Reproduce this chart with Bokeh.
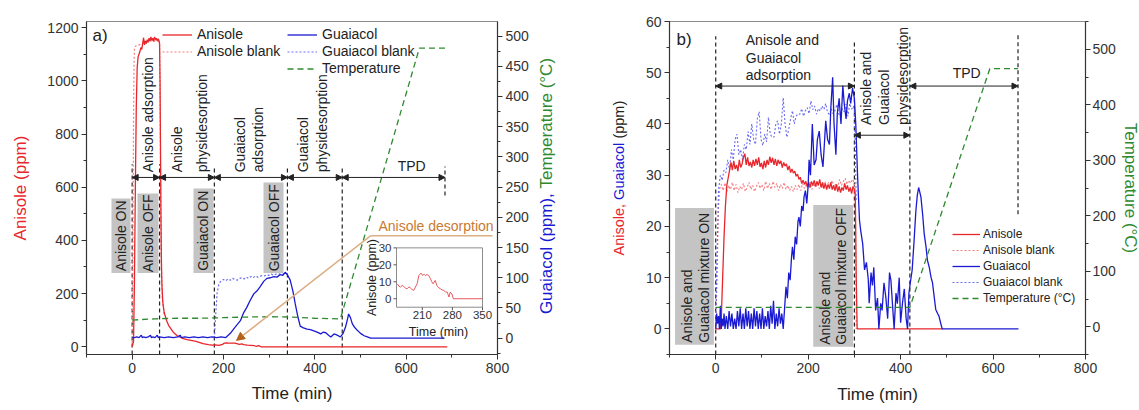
import math
from bokeh.plotting import figure
from bokeh.models import (Range1d, LinearAxis, SingleIntervalTicker, Legend, LegendItem,
                          Arrow, NormalHead)
from bokeh.layouts import row
from bokeh.embed import file_html
from bokeh.resources import INLINE
from bokeh.core.properties import value

FONT = "Liberation Sans"
RED = "#e8262b"
RED_BLANK = "#f27d80"
BLUE = "#1a1ad2"
BLUE_BLANK = "#6b6bf2"
GREEN = "#2f8a2f"
INK = "#222222"
BOX = "#c4c4c4"
BROWN_TXT = "#c97a32"
BROWN_LINE = "#dcae84"
BROWN_HEAD = "#b5621a"
ROT = math.pi / 2

# ---------------- panel a data ----------------
a_anis_t = [0, 3, 5, 7, 9, 11, 13, 15, 17, 19, 21, 23, 25, 27, 29, 31, 33, 35, 37, 39,
            41, 43, 45, 47, 49, 51, 53, 55, 57, 59, 60, 61, 62, 63, 64, 65, 67, 70, 75, 80,
            90, 100, 110, 120, 140, 155, 167, 175, 182, 190, 194, 198, 202, 207, 211, 217, 225, 229, 235, 240,
            244, 252, 260, 268, 272, 275, 279, 282, 690]
a_anis_v = [0, 20, 250, 600, 900, 1050, 1090, 1100, 1110, 1125, 1118, 1140, 1162, 1135, 1150, 1140, 1155, 1145, 1160, 1150,
            1165, 1152, 1160, 1148, 1165, 1155, 1160, 1150, 1158, 1150, 1140, 1000, 750, 500, 330, 240, 170, 130, 100, 80,
            55, 40, 32, 27, 20, 12, 8, 6, 7, 5, 7, 9, 14, 15, 14, 14, 14, 12, 9, 11,
            8, 6, 5, 4, 1, 4, 3, 0, 0]
a_anisb_t = [0, 1, 2, 3, 4, 5, 7, 10, 15, 20, 30, 40, 50, 58, 60, 61, 62, 63, 64, 66, 70]
a_anisb_v = [0, 150, 500, 850, 1050, 1120, 1130, 1132, 1135, 1140, 1145, 1150, 1150, 1148, 1140, 1000, 700, 450, 300, 180, 120]
a_guai_t = [0, 5, 10, 15, 20, 22, 25, 30, 35, 40, 42, 45, 50, 55, 57, 60, 70, 80, 90, 100,
            105, 108, 115, 125, 135, 145, 155, 165, 175, 185, 195, 205, 215, 225, 237, 244, 251, 258, 266, 273,
            280, 288, 295, 303, 310, 317, 324, 330, 335, 340, 346, 352, 357, 363, 368, 375, 383, 390, 398, 405,
            413, 418, 424, 430, 435, 442, 449, 456, 462, 467, 471, 474, 478, 482, 487, 493, 500, 508, 515, 522,
            600, 684]
a_guai_v = [1, 1, 2, 1, 5, 1, 2, 1, 2, 5, 1, 2, 1, 5, 1, 2, 1, 2, 1, 2,
            5, 1, 2, 1, 2, 1, 2, 1, 2, 1, 2, 1, 8, 18, 29, 42, 51, 62, 73, 78,
            85, 94, 99, 100, 102, 101, 105, 104, 109, 105, 96, 78, 57, 35, 20, 17, 15, 14, 12, 10,
            7, 10, 9, 5, 2, 7, 5, 2, 8, 18, 30, 40, 34, 24, 18, 13, 8, 4, 2, 0,
            0, 0]
a_guaib_t = [180, 183, 186, 190, 195, 200, 205, 210, 215, 220, 225, 230, 235, 240, 245, 250, 255, 260, 265, 270,
             275, 280, 285, 290, 295, 300, 305, 310, 315, 320, 325, 330, 335, 338]
a_guaib_v = [0, 40, 75, 90, 95, 97, 95, 98, 96, 99, 97, 96, 99, 100, 98, 101, 99, 102, 100, 103,
             101, 102, 104, 103, 105, 104, 106, 104, 106, 105, 107, 106, 108, 107]
a_temp_t = [0, 50, 100, 150, 200, 250, 300, 350, 400, 456, 629, 686]
a_temp_v = [30, 32, 33, 33, 34, 35, 35.5, 35, 33, 32, 480, 480]

# inset (anisole desorption zoom)
in_t = [152, 155, 159, 163, 167, 171, 175, 179, 182, 186, 190, 194, 198, 202, 207, 211, 214, 217, 221, 225,
        229, 232, 235, 240, 244, 248, 252, 256, 260, 264, 268, 270, 272, 275, 277, 279, 282, 286, 350]
in_v = [8.8, 7.5, 6.9, 7.8, 7.3, 6.2, 5.9, 7.0, 6.5, 5.5, 4.9, 6.9, 8.8, 13.7, 15.1, 13.7, 14.5, 13.7, 14.2, 13.7,
        11.8, 10.0, 8.8, 10.8, 7.8, 6.5, 5.9, 5.2, 4.9, 4.0, 3.9, 2.5, 1.0, 3.9, 3.2, 2.9, 0, 0, 0]
in_xticks = [210, 280, 350]
in_yticks = [0, 10, 20, 30]

# ---------------- panel b data ----------------
b_anis_t = [0, 10, 12, 15, 18, 21, 24, 27, 30, 33, 36, 39, 42, 45, 48, 51, 54, 57, 60, 63,
            66, 69, 72, 75, 78, 81, 84, 87, 90, 93, 96, 99, 102, 105, 108, 111, 114, 117, 120, 123,
            126, 129, 132, 135, 138, 141, 144, 147, 150, 153, 156, 159, 162, 165, 168, 171, 174, 177, 180, 183,
            186, 189, 192, 195, 198, 201, 204, 207, 210, 213, 216, 219, 222, 225, 228, 231, 234, 237, 240, 243,
            246, 249, 252, 255, 258, 261, 264, 267, 270, 273, 276, 279, 282, 285, 288, 291, 294, 297, 300, 302,
            304, 306, 491]
b_anis_v = [0, 0, 2, 10, 18, 24, 28, 29.5, 31, 32.5, 31, 32.8, 31.2, 32, 30.8, 33, 31.5, 32.2, 33.5, 34.2,
            32, 33.5, 31.8, 32.6, 31.5, 33, 31.8, 33.2, 32, 33.5, 31.6, 32.4, 31.2, 32.8, 31.5, 33, 32, 33.6, 32.4, 33.4,
            32, 33.2, 31.8, 33, 32.2, 32.8, 31.5, 32.5, 31.8, 32.2, 31, 31.8, 30.5, 31.2, 30.4, 30.8, 29.8, 30.2, 29.2, 29.6,
            28.4, 29, 28.2, 28.8, 27.8, 28.6, 27.6, 28.8, 28, 29, 27.8, 28.8, 28, 29.2, 27.6, 28.6, 27.4, 28.4, 27.2, 28.2,
            27.4, 28.6, 27.2, 28, 27, 28.2, 26.8, 27.8, 26.6, 27.6, 27, 28.4, 27.2, 28, 26.8, 27.6, 26.4, 27.8, 27.2, 26,
            10, 0, 0]
b_anisb_t = [0, 3, 6, 9, 12, 16, 20, 24, 28, 32, 36, 40, 44, 48, 52, 56, 60, 64, 68, 72,
             76, 80, 84, 88, 92, 96, 100, 104, 108, 112, 116, 120, 124, 128, 132, 136, 140, 144, 148, 152,
             156, 160, 164, 168, 172, 176, 180, 184, 188, 192, 196, 200, 204, 208, 212, 216, 220, 224, 228, 232,
             236, 240, 244, 248, 252, 256, 260, 264, 268, 272, 276, 280, 284, 288, 292, 296, 300, 302, 304]
b_anisb_v = [0, 10, 24, 27.5, 28.2, 27, 28.5, 26.8, 28, 27.2, 28.6, 27, 28.2, 26.6, 27.8, 27.2, 28.4, 26.8, 27.6, 28.6,
             27.2, 28, 26.8, 27.8, 28.6, 27.4, 28.2, 27, 28.8, 27.4, 28.4, 27.2, 28.8, 27.6, 28.4, 27, 28.2, 27.4, 28.6, 27.2,
             28, 27, 27.8, 26.8, 28, 27.2, 28.2, 27, 28.4, 27.4, 28.2, 27.4, 28.6, 27.2, 28.4, 27.6, 28.8, 27.4, 28.2, 27.6,
             28.8, 27.8, 28.6, 28, 29, 27.6, 28.4, 27.8, 29.2, 28, 28.8, 29.4, 28.2, 29, 28.4, 29.2, 28.5, 27, 0]
b_guai_t = [0, 2, 4, 6, 8, 10, 12, 14, 16, 18, 20, 23, 26, 29, 32, 35, 38, 41, 44, 47,
            50, 53, 56, 59, 62, 65, 68, 71, 74, 77, 80, 83, 86, 89, 92, 95, 98, 101, 104, 107,
            110, 113, 116, 119, 122, 125, 128, 131, 134, 137, 140, 143, 146, 149, 152, 155, 158, 161, 164, 166,
            169, 172, 175, 178, 180, 183, 186, 189, 191, 194, 197, 200, 202, 205, 209, 213, 217, 220, 224, 228,
            232, 235, 238, 242, 246, 249, 253, 256, 260, 263, 267, 271, 275, 278, 282, 285, 289, 292, 296, 300,
            303, 307, 311, 314, 318, 322, 326, 330, 332, 336, 339, 342, 346, 350, 353, 357, 360, 364, 368, 372,
            376, 379, 383, 386, 390, 393, 397, 400, 404, 408, 412, 415, 418, 421, 425, 429, 433, 436, 439, 442,
            444, 448, 451, 455, 458, 462, 466, 469, 473, 476, 480, 483, 487, 490, 655]
b_guai_v = [0, 3, 1, 2.5, 0, 4.5, 0, 2, 0.5, 3, 0, 2.5, 0, 3.5, 0.5, 3, 0, 2, 0, 3.5,
            0.5, 4, 0, 3, 0, 4, 0.5, 3.5, 0, 3, 0, 4, 0.5, 3.5, 0, 3, 0, 4, 0, 2.5,
            0.5, 3.5, 0, 4.5, 1, 5.5, 0, 3, 0.5, 4, 1, 3, 0, 4, 8.2, 6, 11, 9.5, 14, 16,
            13.5, 18, 16.5, 21, 21.8, 20, 24, 23, 25.7, 27, 24.5, 28, 33, 30, 40, 32, 33, 37, 38.6, 34,
            31.6, 36, 40.6, 37, 36, 43, 49.1, 40, 34, 42, 45, 40, 47.5, 44, 41, 44.5, 46, 44, 47, 45,
            40, 29.6, 21.2, 19, 16.6, 11.5, 13, 9.7, 5, 11, 8.5, 12, 3.6, 6, 0, 5, 3.6, 9, 6.2, 2,
            11, 9.5, 4, 0, 7, 4.9, 10, 1.2, 5, 7.8, 2, 0, 7, 9, 11.5, 17, 23, 26, 27.6, 26.5,
            25.7, 22, 18.6, 16, 13.4, 12, 10, 9, 6, 3.8, 3, 2.5, 1, 0, 0]
b_guaib_t = [0, 3, 6, 10, 14, 18, 22, 26, 30, 34, 38, 42, 46, 50, 54, 58, 62, 66, 70, 74,
             78, 82, 86, 90, 94, 98, 102, 106, 110, 114, 118, 122, 126, 130, 134, 138, 142, 146, 150, 154,
             158, 162, 166, 170, 174, 178, 182, 186, 190, 194, 198, 202, 206, 210, 214, 218, 222, 226, 230, 234,
             238, 242, 246, 250, 254, 258, 262, 266, 270, 274, 278, 282, 286, 290, 294, 298, 300, 302, 304]
b_guaib_v = [0, 15, 27, 30, 29, 31, 30.5, 33, 31, 35, 33, 37, 38, 34, 35, 33, 36, 35, 38.5, 36,
             40, 37, 36, 41, 42.4, 37, 35.8, 38, 36.5, 41.3, 38, 37.4, 37.4, 40, 40.6, 38, 40, 45.1, 40, 37.4,
             39, 41, 42.6, 40, 41.5, 42, 41.9, 43, 41.5, 42.6, 43.2, 42, 44.5, 42.8, 43.5, 41.9, 43, 42.5, 43.5, 42.8,
             44, 42.2, 41.9, 43, 42, 42.6, 43.8, 42, 41.3, 43, 42.4, 43.9, 41.5, 44, 42.9, 43.5, 42.6, 35, 25]
b_temp_t = [0, 100, 200, 300, 420, 593, 654]
b_temp_v = [35, 35, 35, 35, 35, 465, 465]

for a_, b_ in [(a_anis_t, a_anis_v), (a_anisb_t, a_anisb_v), (a_guai_t, a_guai_v), (a_guaib_t, a_guaib_v),
               (in_t, in_v), (b_anis_t, b_anis_v), (b_anisb_t, b_anisb_v), (b_guai_t, b_guai_v),
               (b_guaib_t, b_guaib_v)]:
    assert len(a_) == len(b_), (len(a_), len(b_))

# ---------------- ranges ----------------
A_X = (-100, 800); A_Y = (-29, 1223); A_Y2 = (-27, 524)
B_X = (-100, 800); B_Y = (-5, 60); B_Y2 = (-50, 550)

# ---------------- layout (page pixels; frames of a row share top/bottom) ----------------
TOTAL_H = 409
C_T, C_H = 21, 333
C_B = TOTAL_H - C_T - C_H
A_L, A_W, A_RB = 86, 411, 38
S_W = 95
B_LB, B_W, B_RB = 39, 416, 53
S_L = A_L + A_W + A_RB

# reference frame of panel a used to place its annotations
R_AT, R_AH = 19, 331
IN_L, IN_R, IN_TOP, IN_BOT = 396, 482, 244, 303
IN_X = (150, 350); IN_Y = (-5, 30)


def ax_px(px):
    return A_X[0] + (px - A_L) / A_W * (A_X[1] - A_X[0])


def ay_px(py):
    return A_Y[1] - (py - R_AT) / R_AH * (A_Y[1] - A_Y[0])


def style_axis(ax):
    ax.axis_line_color = "#333333"
    ax.axis_line_width = 1.2
    ax.major_tick_line_color = "#333333"
    ax.minor_tick_line_color = "#333333"
    ax.major_tick_out = 5
    ax.major_tick_in = 0
    ax.minor_tick_out = 3
    ax.minor_tick_in = 0
    ax.major_label_text_font = FONT
    ax.major_label_text_font_size = "14px"
    ax.major_label_text_color = "#333333"
    ax.axis_label_text_font = FONT
    ax.axis_label_text_font_style = "normal"
    ax.axis_label_text_font_size = "17px"
    ax.axis_label_text_color = INK
    ax.major_label_standoff = 3
    ax.axis_label_standoff = 3


def make_fig(xr, yr, fw, bl, br):
    p = figure(frame_width=fw, frame_height=C_H, x_range=Range1d(*xr), y_range=Range1d(*yr),
               min_border_left=bl, min_border_right=br, min_border_top=C_T, min_border_bottom=C_B,
               output_backend="svg", toolbar_location=None, title=None)
    p.xgrid.visible = False
    p.ygrid.visible = False
    p.outline_line_color = "#8c8c8c"
    p.background_fill_color = "white"
    p.border_fill_color = "white"
    return p


def style_legend(leg, fs, h, gw, loc):
    leg.location = loc
    leg.border_line_alpha = 0
    leg.background_fill_alpha = 0
    leg.padding = 0
    leg.margin = 0
    leg.spacing = 0
    leg.glyph_width = gw
    leg.glyph_height = h
    leg.label_height = h
    leg.label_standoff = 5
    leg.label_text_font = FONT
    leg.label_text_font_size = fs
    leg.label_text_color = INK


def txt(p, xs, ys, texts, size="14px", angle=0.0, align="left", baseline="middle", color=INK, **kw):
    p.text(x=xs, y=ys, text=texts, angle=angle, text_align=align, text_baseline=baseline,
           text_font=value(FONT), text_font_size=value(size), text_color=color, **kw)


def arrows(p, x0s, x1s, ys):
    for x0, x1, y in zip(x0s, x1s, ys):
        p.add_layout(Arrow(start=NormalHead(size=6, fill_color=INK, line_color=INK),
                           end=NormalHead(size=6, fill_color=INK, line_color=INK),
                           x_start=x0, y_start=y, x_end=x1, y_end=y, line_color=INK, line_width=1))


# ================= panel a =================
pa = make_fig(A_X, A_Y, A_W, A_L, A_RB)
pa.xaxis.ticker = SingleIntervalTicker(interval=200, num_minor_ticks=2)
pa.yaxis.ticker = SingleIntervalTicker(interval=200, num_minor_ticks=2)
style_axis(pa.xaxis[0])
style_axis(pa.yaxis[0])
pa.xaxis.axis_label = "Time (min)"
pa.xaxis.axis_label_standoff = 8
pa.yaxis.axis_label = "Anisole (ppm)"
pa.yaxis.axis_label_text_color = RED
pa.yaxis.axis_label_standoff = 14

pa.extra_y_ranges = {"right": Range1d(*A_Y2)}
sx_in = (IN_X[1] - IN_X[0]) / (IN_R - IN_L)
sy_in = (IN_Y[1] - IN_Y[0]) / (IN_BOT - IN_TOP)
pa.extra_x_ranges = {"ix": Range1d(IN_X[0] - (IN_L - A_L) * sx_in, IN_X[1] + (A_L + A_W - IN_R) * sx_in)}
pa.extra_y_ranges["iy"] = Range1d(IN_Y[0] - (R_AT + R_AH - IN_BOT) * sy_in, IN_Y[1] + (IN_TOP - R_AT) * sy_in)
ax2 = LinearAxis(y_range_name="right", ticker=SingleIntervalTicker(interval=50, num_minor_ticks=2))
style_axis(ax2)
pa.add_layout(ax2, "right")

# phase boxes (a)
a_box_l = [-45.3, 11.7, 134.3, 287.6]
a_box_r = [-3.6, 57.7, 178.1, 331.4]
a_box_b = [277.4, 277.4, 277.4, 277.4]
a_box_t = [557.3, 576.2, 595.1, 617.8]
a_box_txt = ["Anisole ON", "Anisole OFF", "Guaiacol ON", "Guaiacol OFF"]
pa.quad(left=a_box_l, right=a_box_r, bottom=a_box_b, top=a_box_t, fill_color=BOX, line_color=None)
txt(pa, [(l + r) / 2 for l, r in zip(a_box_l, a_box_r)], [(b + t) / 2 for b, t in zip(a_box_b, a_box_t)],
    a_box_txt, angle=ROT, align="center")

# vertical phase lines (a)
a_vx = [0, 60, 180, 340, 460, 685]
a_vtop = [686, 686, 680, 680, 680, 678]
a_vbot = [-29, -29, -29, -29, -29, 569]
pa.segment(x0=a_vx, y0=a_vbot, x1=a_vx, y1=a_vtop, line_color=INK, line_dash="4 3", line_width=1.2)

r_anb = pa.line(a_anisb_t, a_anisb_v, line_color=RED_BLANK, line_dash="2 2", line_width=1.2)
r_guab = pa.line(a_guaib_t, a_guaib_v, line_color=BLUE_BLANK, line_dash="2 2", line_width=1.2, y_range_name="right")
r_an = pa.line(a_anis_t, a_anis_v, line_color=RED, line_width=1.3)
r_gua = pa.line(a_guai_t, a_guai_v, line_color=BLUE, line_width=1.3, y_range_name="right")
r_tmp = pa.line(a_temp_t, a_temp_v, line_color=GREEN, line_dash="6 4", line_width=1.3, y_range_name="right")

# phase arrows & labels (a)
a_arrow_x0 = [0, 60, 180, 340, 460]
a_arrow_x1 = [60, 180, 340, 460, 685]
arrows(pa, a_arrow_x0, a_arrow_x1, [636.7] * 5)
a_phase_txt = ["Anisole adsorption", "Anisole", "physidesorption", "Guaiacol", "adsorption", "Guaiacol", "physidesorption"]
a_phase_x = [34, 99, 154, 237, 276, 375, 416]
txt(pa, a_phase_x, [656] * 7, a_phase_txt, angle=ROT, align="left")
txt(pa, [612], [678], ["TPD"], align="center")
txt(pa, [ax_px(92)], [ay_px(33)], ["a)"], size="17px")

# anisole desorption call-out
pa.add_layout(Arrow(end=None, x_start=ax_px(370), y_start=ay_px(232), x_end=ax_px(492), y_end=ay_px(232),
                    line_color=BROWN_LINE, line_width=1.5))
pa.add_layout(Arrow(end=NormalHead(size=8, fill_color=BROWN_HEAD, line_color=BROWN_HEAD),
                    x_start=ax_px(370), y_start=ay_px(232), x_end=ax_px(236), y_end=ay_px(336),
                    line_color=BROWN_LINE, line_width=1.5))
txt(pa, [ax_px(435.5)], [ay_px(222)], ["Anisole desorption"], align="center", color=BROWN_TXT)

# inset
IR = dict(x_range_name="ix", y_range_name="iy")
pa.quad(left=[IN_X[0]], right=[IN_X[1]], bottom=[IN_Y[0]], top=[IN_Y[1]], fill_color="white",
        line_color="#8c8c8c", line_width=1, **IR)
pa.line(in_t, in_v, line_color="#e85a5f", line_width=1, **IR)
pa.segment(x0=[IN_X[0]] * 4, y0=in_yticks, x1=[IN_X[0] - 3 * sx_in] * 4, y1=in_yticks, line_color="#555555", **IR)
pa.segment(x0=in_xticks, y0=[IN_Y[0]] * 3, x1=in_xticks, y1=[IN_Y[0] - 3 * sy_in] * 3, line_color="#555555", **IR)
txt(pa, [IN_X[0] - 5 * sx_in] * 4, in_yticks, [str(v) for v in in_yticks], size="11.5px", align="right",
    color="#333333", **IR)
txt(pa, in_xticks, [IN_Y[0] - 4 * sy_in] * 3, [str(v) for v in in_xticks], size="11.5px", align="center",
    baseline="top", color="#333333", **IR)
txt(pa, [IN_X[0] - (IN_L - 371) * sx_in], [(IN_Y[0] + IN_Y[1]) / 2], ["Anisole (ppm)"], size="12.5px",
    angle=ROT, align="center", **IR)
txt(pa, [IN_X[0] + (438 - IN_L) * sx_in], [IN_Y[0] - (328 - IN_BOT) * sy_in], ["Time (min)"], size="12.5px",
    align="center", **IR)

leg_a1 = Legend(items=[LegendItem(label="Anisole", renderers=[r_an]),
                       LegendItem(label="Anisole blank", renderers=[r_anb])])
style_legend(leg_a1, "14px", 17, 30, (76, 294.5))
leg_a2 = Legend(items=[LegendItem(label="Guaiacol", renderers=[r_gua]),
                       LegendItem(label="Guaiacol blank", renderers=[r_guab]),
                       LegendItem(label="Temperature", renderers=[r_tmp])])
style_legend(leg_a2, "14px", 17, 30, (201, 277.5))
pa.add_layout(leg_a1)
pa.add_layout(leg_a2)

# ================= title strip between the panels (multi-coloured axis titles) =================
ps = figure(frame_width=S_W, frame_height=C_H, x_range=Range1d(S_L, S_L + S_W),
            y_range=Range1d(C_T + C_H, C_T), min_border_left=0, min_border_right=0,
            min_border_top=C_T, min_border_bottom=C_B, x_axis_type=None, y_axis_type=None,
            output_backend="svg", toolbar_location=None, title=None)
ps.outline_line_color = None
ps.border_fill_color = "white"
txt(ps, [546], [313.6], ["Guaiacol (ppm),"], size="17px", angle=ROT, color=BLUE)
txt(ps, [546], [188.0], ["Temperature (°C)"], size="17px", angle=ROT, color=GREEN)
txt(ps, [618], [255.0], ["Anisole,"], size="14.5px", angle=ROT, color=RED)
txt(ps, [618], [199.4], ["Guaiacol"], size="14.5px", angle=ROT, color=BLUE)
txt(ps, [618], [138.1], ["(ppm)"], size="14.5px", angle=ROT, color=INK)

# ================= panel b =================
pb = make_fig(B_X, B_Y, B_W, B_LB, B_RB)
pb.xaxis.ticker = SingleIntervalTicker(interval=200, num_minor_ticks=2)
pb.yaxis.ticker = SingleIntervalTicker(interval=10, num_minor_ticks=2)
style_axis(pb.xaxis[0])
style_axis(pb.yaxis[0])
pb.xaxis.axis_label = "Time (min)"
pb.xaxis.axis_label_standoff = 9
pb.extra_y_ranges = {"right": Range1d(*B_Y2)}
bx2 = LinearAxis(y_range_name="right", ticker=SingleIntervalTicker(interval=100, num_minor_ticks=2))
style_axis(bx2)
bx2.axis_label = "Temperature (°C)"
bx2.axis_label_text_color = GREEN
bx2.axis_label_standoff = 2
bx2.major_label_standoff = 2
pb.add_layout(bx2, "right")

b_box_l = [-88, 211]
b_box_r = [-4, 297]
b_box_b = [-3.1, -3.5]
b_box_t = [23.6, 24.2]
pb.quad(left=b_box_l, right=b_box_r, bottom=b_box_b, top=b_box_t, fill_color=BOX, line_color=None)
b_box_txt = ["Anisole and", "Guaiacol mixture ON", "Anisole and", "Guaiacol mixture OFF"]
b_box_tx = [-63, -26, 236, 271]
b_box_ty = [-2.7, -2.7, -3.1, -3.1]
txt(pb, b_box_tx, b_box_ty, b_box_txt, angle=ROT, align="left")

b_vx = [0, 300, 420, 654]
b_vtop = [57.1, 56.5, 57.0, 57.5]
b_vbot = [-5, -5, -5, 22.4]
pb.segment(x0=b_vx, y0=b_vbot, x1=b_vx, y1=b_vtop, line_color=INK, line_dash="4 3", line_width=1.2)

rb_anb = pb.line(b_anisb_t, b_anisb_v, line_color=RED_BLANK, line_dash="2 2", line_width=1.1)
rb_guab = pb.line(b_guaib_t, b_guaib_v, line_color=BLUE_BLANK, line_dash="2 2", line_width=1.1)
rb_an = pb.line(b_anis_t, b_anis_v, line_color=RED, line_width=1.3)
rb_gua = pb.line(b_guai_t, b_guai_v, line_color=BLUE, line_width=1.3)
rb_tmp = pb.line(b_temp_t, b_temp_v, line_color=GREEN, line_dash="6 4", line_width=1.3, y_range_name="right")

arrows(pb, [0, 300, 420], [300, 420, 654], [47.4, 37.8, 47.4])
txt(pb, [65, 65, 65], [56.3, 52.8, 49.5], ["Anisole and", "Guaiacol", "adsorption"])
txt(pb, [325, 364, 405], [39.8, 39.8, 39.8], ["Anisole and", "Guaiacol", "physidesorption"], angle=ROT)
txt(pb, [543], [49.9], ["TPD"], align="center")
txt(pb, [-85], [56.5], ["b)"], size="17px")

leg_b = Legend(items=[LegendItem(label="Anisole", renderers=[rb_an]),
                      LegendItem(label="Anisole blank", renderers=[rb_anb]),
                      LegendItem(label="Guaiacol", renderers=[rb_gua]),
                      LegendItem(label="Guaiacol blank", renderers=[rb_guab]),
                      LegendItem(label="Temperature (°C)", renderers=[rb_tmp])])
style_legend(leg_b, "12px", 16, 28, (283, 48))
leg_b.label_standoff = 3
pb.add_layout(leg_b)

layout = row(pa, ps, pb)
open("out.html", "w").write(file_html(layout, INLINE))
